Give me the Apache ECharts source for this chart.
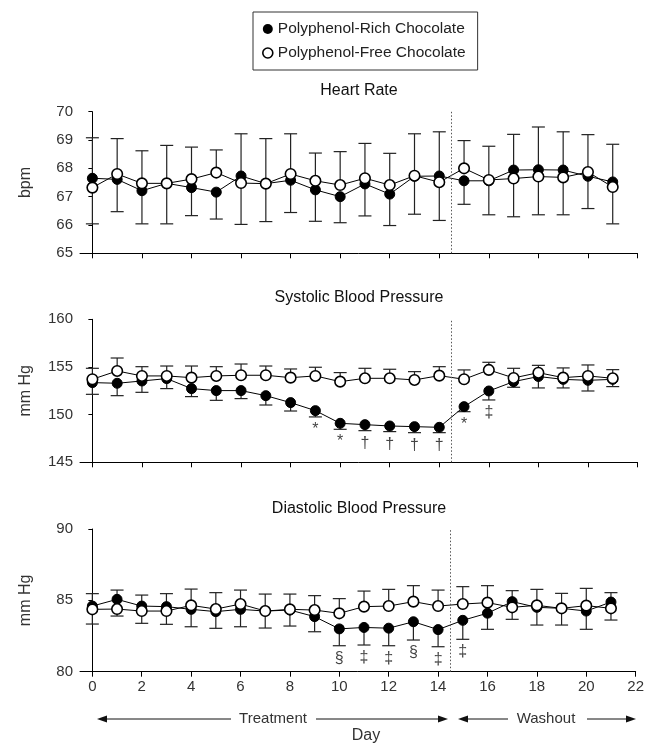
<!DOCTYPE html>
<html><head><meta charset="utf-8">
<script src="https://cdn.jsdelivr.net/npm/echarts@6/dist/echarts.min.js"></script>
<style>html,body{margin:0;padding:0;background:#fff}#c{width:647px;height:744px}</style>
</head><body><div id="c"></div>
<script>
const days = [0,1,2,3,4,5,6,7,8,9,10,11,12,13,14,15,16,17,18,19,20,21];
const xTicks = [0,2,4,6,8,10,12,14,16,18,20,22];
const seriesNames = ['Polyphenol-Rich Chocolate','Polyphenol-Free Chocolate'];
const panelTitles = ['Heart Rate','Systolic Blood Pressure','Diastolic Blood Pressure'];
const yNames = ['bpm','mm Hg','mm Hg'];

// Heart rate (bpm)
const hrRich = [67.65,67.61,67.21,67.47,67.32,67.16,67.73,67.46,67.58,67.24,67.0,67.45,67.09,67.72,67.73,67.56,67.56,67.94,67.95,67.94,67.72,67.52];
const hrRichLow = [66.04,66.47,66.04,66.04,66.33,66.21,66.02,66.12,66.44,66.13,66.08,66.32,65.98,66.38,66.16,66.73,66.36,66.29,66.36,66.36,66.58,66.04];
const hrFree = [67.32,67.8,67.47,67.47,67.62,67.85,67.48,67.46,67.8,67.56,67.41,67.65,67.41,67.74,67.51,68.0,67.59,67.64,67.71,67.68,67.87,67.34];
const hrFreeHigh = [69.08,69.05,68.62,68.81,68.75,68.65,69.22,69.05,69.22,68.54,68.59,68.88,68.53,69.22,69.29,68.98,68.78,69.2,69.46,69.29,69.19,68.85];

// Systolic BP (mm Hg)
const sbpRich = [153.36,153.29,153.53,153.78,152.73,152.52,152.52,151.99,151.26,150.42,149.09,148.95,148.81,148.74,148.67,150.84,152.48,153.46,154.0,153.7,153.6,153.7];
const sbpRichLow = [152.13,151.99,152.34,152.73,151.89,151.5,151.68,151.01,150.38,149.76,148.46,148.32,148.22,148.11,148.11,150.31,151.54,152.87,152.8,152.8,152.48,152.94];
const sbpFree = [153.71,154.58,154.06,154.06,153.88,154.06,154.13,154.13,153.88,154.06,153.46,153.81,153.81,153.64,154.09,153.71,154.69,153.85,154.4,153.88,154.06,153.81];
const sbpFreeHigh = [154.86,155.94,155.03,155.1,155.1,155.03,155.31,155.1,154.79,154.97,154.41,154.86,154.76,154.51,155.03,154.69,155.49,154.86,155.17,154.9,155.21,154.72];
const sbpMarkDays = [9,10,11,12,13,14,15,16];
const sbpMarkSyms = ['*','*','†','†','†','†','*','‡'];

// Diastolic BP (mm Hg)
const dbpRich = [84.6,85.07,84.6,84.56,84.37,84.21,84.37,84.25,84.32,83.86,83.0,83.1,83.05,83.5,82.95,83.6,84.1,84.91,84.51,84.44,84.25,84.88];
const dbpRichLow = [83.34,83.9,83.39,83.32,83.15,83.04,83.15,83.06,83.2,82.8,81.82,81.87,81.82,82.22,81.75,82.27,82.97,83.67,83.27,83.27,82.97,83.62];
const dbpFree = [84.37,84.39,84.25,84.25,84.65,84.39,84.74,84.25,84.37,84.32,84.09,84.56,84.6,84.91,84.6,84.74,84.84,84.51,84.65,84.44,84.63,84.44];
const dbpFreeHigh = [85.47,85.72,85.37,85.47,85.79,85.54,85.72,85.44,85.44,85.33,85.12,85.65,85.77,86.03,85.72,85.96,86.03,85.68,85.77,85.49,85.84,85.54];
const dbpMarkDays = [10,11,12,13,14,15];
const dbpMarkSyms = ['§','‡','‡','§','‡','‡'];

const yMins = [65,145,80], yMaxs = [70,160,90], yIntervals = [1,5,5];
const phaseSplit = 14.5;

const FONT = '"Liberation Sans", Arial, Helvetica, sans-serif';
const TXT = '#333';

const panels = [
  {rich: hrRich, richLow: hrRichLow, free: hrFree, freeHigh: hrFreeHigh, markDays: [], markSyms: [], markOff: 0},
  {rich: sbpRich, richLow: sbpRichLow, free: sbpFree, freeHigh: sbpFreeHigh, markDays: sbpMarkDays, markSyms: sbpMarkSyms, markOff: 12.5},
  {rich: dbpRich, richLow: dbpRichLow, free: dbpFree, freeHigh: dbpFreeHigh, markDays: dbpMarkDays, markSyms: dbpMarkSyms, markOff: 12.5}
];

const gridTops = [111.7, 319.3, 529];
const gridHeights = [141.6, 143, 142.7];

const grid = gridTops.map((t,i)=>({left:80, right:9.5, top:t, height:gridHeights[i]}));

const xAxis = panels.map((p,i)=>({
  type:'value', gridIndex:i, min:-0.5, max:22,
  axisLine:{show:true, onZero:false, lineStyle:{color:'#000', width:1}},
  axisTick:{show:true, inside:false, length:5, customValues:xTicks, lineStyle:{color:'#000'}},
  axisLabel:{show:i===2, customValues:xTicks, color:TXT, fontSize:15, fontFamily:FONT, margin:8},
  splitLine:{show:false}
}));

const yAxis = panels.map((p,i)=>({
  type:'value', gridIndex:i, min:yMins[i], max:yMaxs[i], interval:yIntervals[i],
  name:yNames[i], nameLocation:'middle', nameGap:46, nameRotate:90,
  nameTextStyle:{color:TXT, fontSize:16, fontFamily:FONT},
  axisLine:{show:true, lineStyle:{color:'#000', width:1}},
  axisTick:{show:true, length:4, lineStyle:{color:'#000'}},
  axisLabel:{color:TXT, fontSize:15, fontFamily:FONT, margin:7},
  splitLine:{show:false}
}));

function errRender(params, api){
  const x = api.value(0), y0 = api.value(1), y1 = api.value(2);
  const p0 = api.coord([x,y0]), p1 = api.coord([x,y1]);
  const hw = 6.5;
  return {type:'group', children:[
    {type:'line', shape:{x1:p0[0],y1:p0[1],x2:p1[0],y2:p1[1]}, style:{stroke:'#222', lineWidth:1.2}},
    {type:'line', shape:{x1:p1[0]-hw,y1:p1[1],x2:p1[0]+hw,y2:p1[1]}, style:{stroke:'#222', lineWidth:1.2}}
  ]};
}

const series = [];
panels.forEach((p,i)=>{
  series.push({
    type:'custom', name:'errRich'+i, xAxisIndex:i, yAxisIndex:i, z:1, silent:true,
    renderItem: errRender, encode:{x:0, y:[1,2]},
    data: days.map((d,k)=>[d, p.rich[k], p.richLow[k]])
  });
  series.push({
    type:'custom', name:'errFree'+i, xAxisIndex:i, yAxisIndex:i, z:1, silent:true,
    renderItem: errRender, encode:{x:0, y:[1,2]},
    data: days.map((d,k)=>[d, p.free[k], p.freeHigh[k]])
  });
  series.push({
    type:'line', name:seriesNames[0], xAxisIndex:i, yAxisIndex:i, z:3,
    symbol:'circle', symbolSize:10, showAllSymbol:true,
    itemStyle:{color:'#000', borderColor:'#000', borderWidth:1},
    lineStyle:{color:'#000', width:1},
    data: days.map((d,k)=>[d, p.rich[k]]),
    markLine:{silent:true, symbol:['none','none'], label:{show:false},
      lineStyle:{color:'#555', type:[1.5,2], width:1},
      data:[{xAxis:phaseSplit}]}
  });
  series.push({
    type:'line', name:seriesNames[1], xAxisIndex:i, yAxisIndex:i, z:4,
    symbol:'circle', symbolSize:10.5, showAllSymbol:true,
    itemStyle:{color:'#fff', borderColor:'#000', borderWidth:1.6},
    lineStyle:{color:'#000', width:1},
    data: days.map((d,k)=>[d, p.free[k]])
  });
  if (p.markDays.length){
    series.push({
      type:'custom', name:'marks'+i, xAxisIndex:i, yAxisIndex:i, z:5, silent:true,
      encode:{x:0, y:1},
      data: p.markDays.map(d=>[d, p.richLow[days.indexOf(d)]]),
      renderItem:(params, api)=>{
        const pt = api.coord([api.value(0), api.value(1)]);
        return {type:'text', x:pt[0], y:pt[1]+p.markOff,
          style:{text:p.markSyms[params.dataIndex], textAlign:'center', textVerticalAlign:'middle',
            font:'16px '+FONT, fill:'#444'}};
      }
    });
  }
});

const titleY = [91, 298, 509];
const graphic = [];
panelTitles.forEach((t,i)=>{
  graphic.push({type:'text', x:359, y:titleY[i],
    style:{text:t, textAlign:'center', textVerticalAlign:'middle', font:'16px '+FONT, fill:'#111'}});
});
const ay = 719;
function arrowHead(tip, dir){
  return {type:'polygon', shape:{points:[[tip,ay],[tip-dir*10,ay-3.5],[tip-dir*10,ay+3.5]]}, style:{fill:'#111'}};
}
function hline(x1,x2){
  return {type:'line', shape:{x1:x1,y1:ay,x2:x2,y2:ay}, style:{stroke:'#111', lineWidth:1}};
}
graphic.push(arrowHead(97,-1), hline(105,231), hline(316,440), arrowHead(448,1));
graphic.push({type:'text', x:273, y:ay, style:{text:'Treatment', textAlign:'center', textVerticalAlign:'middle', font:'15px '+FONT, fill:TXT}});
graphic.push(arrowHead(458,-1), hline(466,508), hline(587,628), arrowHead(636,1));
graphic.push({type:'text', x:546, y:ay, style:{text:'Washout', textAlign:'center', textVerticalAlign:'middle', font:'15px '+FONT, fill:TXT}});
graphic.push({type:'text', x:366, y:736, style:{text:'Day', textAlign:'center', textVerticalAlign:'middle', font:'16px '+FONT, fill:TXT}});

const chart = echarts.init(document.getElementById('c'), null, {renderer:'canvas'});
chart.setOption({
  animation:false,
  backgroundColor:'#fff',
  grid, xAxis, yAxis, series, graphic,
  legend:{
    left:253, top:12, orient:'vertical', selectedMode:false,
    borderColor:'#333', borderWidth:1, padding:[9,12,9,9],
    itemWidth:10, itemHeight:10, itemGap:8,
    textStyle:{fontSize:15.5, color:'#222', fontFamily:FONT, lineHeight:15},
    data:[
      {name:seriesNames[0], icon:'circle', itemStyle:{color:'#000', borderWidth:0}},
      {name:seriesNames[1], icon:'circle', itemStyle:{color:'#fff', borderColor:'#000', borderWidth:1.6}}
    ]
  }
});
</script></body></html>
